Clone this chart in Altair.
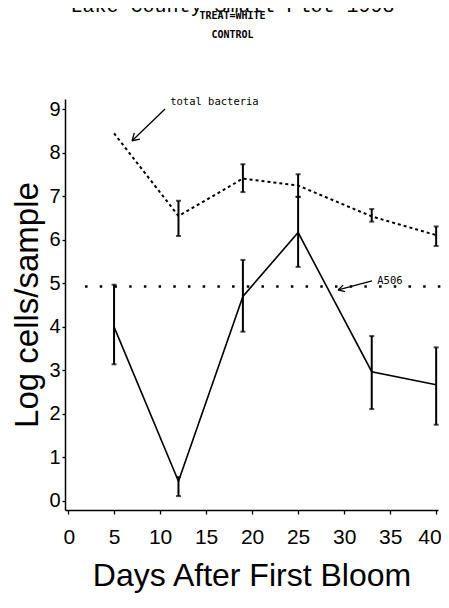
import altair as alt
import pandas as pd

# ---- data ----
days = [5, 12, 19, 25, 33, 40]
a506_mean = [4.0, 0.45, 4.7, 6.17, 2.97, 2.67]
a506_low = [3.14, 0.11, 3.89, 5.38, 2.11, 1.75]
a506_high = [4.97, 0.55, 5.54, 6.99, 3.79, 3.53]

total_mean = [8.45, 6.55, 7.41, 7.25, 6.54, 6.11]
total_low = [None, 6.09, 7.10, 6.99, 6.42, 5.86]
total_high = [None, 6.90, 7.74, 7.51, 6.71, 6.31]

threshold_value = 4.93
threshold_span = [1.85, 41.2]

x_ticks = [0, 5, 10, 15, 20, 25, 30, 35, 40]
y_ticks = [0, 1, 2, 3, 4, 5, 6, 7, 8, 9]

annot_text = ["total bacteria", "A506"]
annot_x = [11.1, 33.6]
annot_y = [9.17, 5.06]

# arrow segments (shaft + two head strokes) in data units
arrow_x = [10.54, 6.96, 6.96, 33.04, 29.35, 29.35]
arrow_y = [9.01, 8.28, 8.28, 5.06, 4.85, 4.85]
arrow_x2 = [6.96, 7.81, 7.20, 29.35, 30.09, 29.89]
arrow_y2 = [8.28, 8.32, 8.46, 4.85, 4.81, 4.96]

# ---- tables ----
a506_df = pd.DataFrame({"day": days, "mean": a506_mean, "low": a506_low, "high": a506_high})
total_df = pd.DataFrame({"day": days, "mean": total_mean, "low": total_low, "high": total_high})
total_err = total_df.dropna()
thr_df = pd.DataFrame({"x": [threshold_span[0]], "x2": [threshold_span[1]], "y": [threshold_value]})
ann_df = pd.DataFrame({"x": annot_x, "y": annot_y, "label": annot_text})
arr_df = pd.DataFrame({"x": arrow_x, "y": arrow_y, "x2": arrow_x2, "y2": arrow_y2})

xscale = alt.Scale(domain=[-0.33, 40.2], nice=False, zero=False)
yscale = alt.Scale(domain=[-0.21, 9.24], nice=False, zero=False)

xaxis = alt.Axis(values=x_ticks, title="Days After First Bloom", titleFontSize=32,
                 titleFont="Liberation Sans", titleFontWeight="normal", titlePadding=13,
                 labelFontSize=21, labelPadding=12, tickSize=4,
                 labelFlush=5, labelFlushOffset=5)
yaxis = alt.Axis(values=y_ticks, title="Log cells/sample", titleFontSize=33,
                 titleFont="Liberation Sans", titleFontWeight="normal", titlePadding=4,
                 labelFontSize=20, labelPadding=2, tickSize=3)


def X(field):
    return alt.X(field, type="quantitative", scale=xscale, axis=xaxis)


def Y(field):
    return alt.Y(field, type="quantitative", scale=yscale, axis=yaxis)


black = "#000000"

a506_line = alt.Chart(a506_df).mark_line(color=black, strokeWidth=1.6).encode(x=X("day"), y=Y("mean"))
a506_bar = alt.Chart(a506_df).mark_rule(color=black, strokeWidth=2).encode(
    x=X("day"), y=Y("low"), y2=alt.Y2("high"))
a506_cap_lo = alt.Chart(a506_df).mark_tick(color=black, orient="horizontal", size=5, thickness=2).encode(
    x=X("day"), y=Y("low"))
a506_cap_hi = alt.Chart(a506_df).mark_tick(color=black, orient="horizontal", size=5, thickness=2).encode(
    x=X("day"), y=Y("high"))

total_line = alt.Chart(total_df).mark_line(color=black, strokeWidth=2, strokeDash=[3, 3]).encode(
    x=X("day"), y=Y("mean"))
total_bar = alt.Chart(total_err).mark_rule(color=black, strokeWidth=2).encode(
    x=X("day"), y=Y("low"), y2=alt.Y2("high"))
total_cap_lo = alt.Chart(total_err).mark_tick(color=black, orient="horizontal", size=5, thickness=2).encode(
    x=X("day"), y=Y("low"))
total_cap_hi = alt.Chart(total_err).mark_tick(color=black, orient="horizontal", size=5, thickness=2).encode(
    x=X("day"), y=Y("high"))

threshold = alt.Chart(thr_df).mark_rule(color=black, strokeWidth=2.5, strokeDash=[2.5, 12.2]).encode(
    x=X("x"), x2=alt.X2("x2"), y=Y("y"))

arrows = alt.Chart(arr_df).mark_rule(color=black, strokeWidth=1.3).encode(
    x=X("x"), y=Y("y"), x2=alt.X2("x2"), y2=alt.Y2("y2"))

labels = alt.Chart(ann_df).mark_text(align="left", baseline="middle", font="DejaVu Sans Mono",
                                      fontSize=10.5, color=black).encode(
    x=X("x"), y=Y("y"), text="label:N")

chart = alt.layer(
    threshold, total_line, total_bar, total_cap_lo, total_cap_hi,
    a506_line, a506_bar, a506_cap_lo, a506_cap_hi, arrows, labels
).properties(
    width=373,
    height=411,
    autosize=alt.AutoSizeParams(type="none"),
    padding={"left": 57, "top": 91, "right": 3, "bottom": 85},
    title=alt.Title(
        text="Lake County Small Plot 1998",
        subtitle=["TREAT=WHITE", "CONTROL"],
        font="Liberation Mono", fontSize=20, fontWeight="normal", color=black,
        subtitleFont="DejaVu Sans Mono", subtitleFontSize=10, subtitleColor=black,
        subtitleFontWeight="bold", subtitleLineHeight=19, subtitlePadding=-5,
        offset=57, dx=-19, anchor="middle", frame="group",
    ),
).configure_view(stroke=None).configure_axis(
    domainColor=black, domainWidth=1.5, tickColor=black, tickWidth=1.3,
    labelColor=black, titleColor=black, labelFont="Liberation Sans", grid=False,
)

chart.save("out.html", embed_options={"renderer": "svg", "actions": False})
